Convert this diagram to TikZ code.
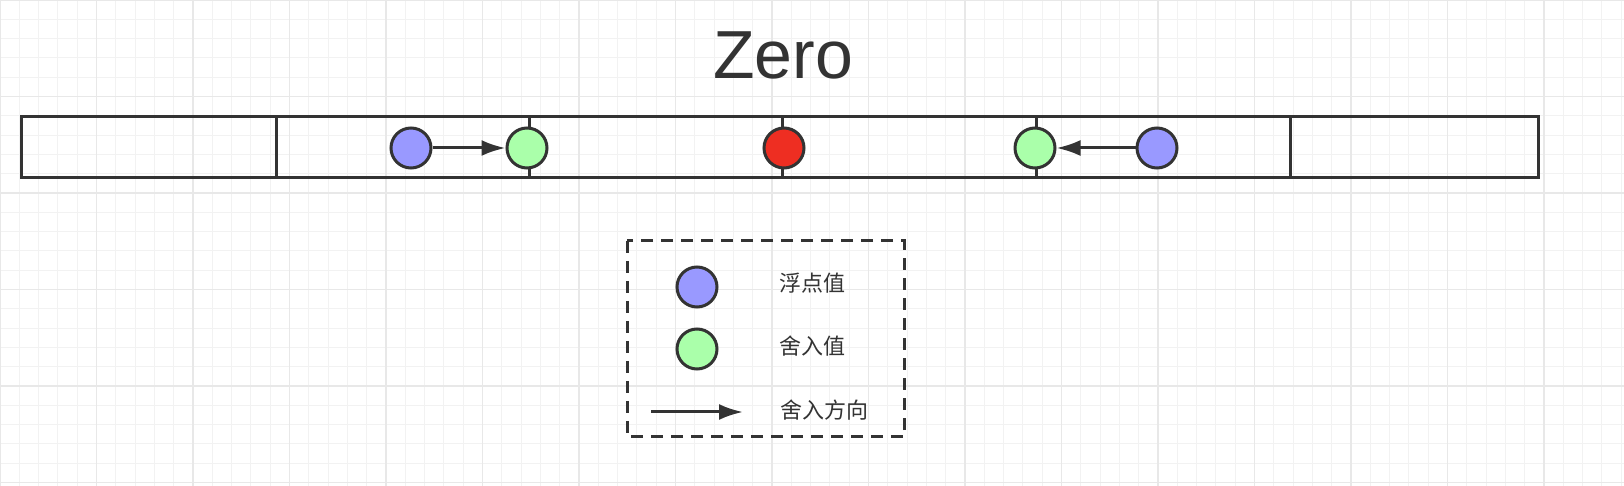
\documentclass[tikz,border=0pt]{standalone}
\usepackage{fontspec}
\setmainfont{Liberation Sans}
\newfontfamily\cjk{Noto Sans CJK SC}
\usetikzlibrary{arrows.meta}
\definecolor{stk}{HTML}{333333}
\definecolor{fblue}{HTML}{9999FF}
\definecolor{fgreen}{HTML}{AAFFAA}
\definecolor{fred}{HTML}{EE2E22}
\tikzset{
 dot/.style={circle,draw=stk,line width=1.5pt,minimum size=20pt,inner sep=0pt},
 arr/.style={draw=stk,line width=1.5pt,-{Latex[length=12pt,width=8pt]}},
 lbl/.style={font=\cjk\fontsize{11}{13}\selectfont,text=stk}
}
\begin{document}
\begin{tikzpicture}[x=0.5pt,y=-0.5pt]
\useasboundingbox (0,0) rectangle (1624,486);
\fill[white] (0,0) rectangle (1624,486);
\foreach \i in {0,...,84} \draw[black!5,line width=0.5pt] ({\i*19.3},0) -- ({\i*19.3},486);
\foreach \i in {0,...,25} \draw[black!5,line width=0.5pt] (0,{\i*19.3}) -- (1624,{\i*19.3});
\foreach \i in {0,...,16} \draw[black!9,line width=0.6pt] ({\i*96.5},0) -- ({\i*96.5},486);
\foreach \i in {0,...,5} \draw[black!9,line width=0.6pt] (0,{\i*96.5}) -- (1624,{\i*96.5});
\node[font=\fontsize{34}{40}\selectfont,text=stk] (title) at (783,55) {Zero};
\draw[stk,line width=1.5pt] (21,117) rectangle (1538,178);
\foreach \x in {276,529,782,1036,1290} \draw[stk,line width=1.5pt] (\x,117) -- (\x,178);
\node[dot,fill=fblue] (b1) at (411,148) {};
\node[dot,fill=fgreen] (g1) at (527,148) {};
\node[dot,fill=fred] (r) at (784,148) {};
\node[dot,fill=fgreen] (g2) at (1035,148) {};
\node[dot,fill=fblue] (b2) at (1157,148) {};
\draw[arr] (b1) -- (g1);
\draw[arr] (b2) -- (g2);
\draw[stk,line width=1.5pt,dash pattern=on 6pt off 4pt] (627,241) rectangle (904,437);
\node[dot,fill=fblue] (lb) at (697,287) {};
\node[dot,fill=fgreen] (lg) at (697,349) {};
\coordinate (a1) at (651,412);
\coordinate (a2) at (743,412);
\draw[arr] (a1) -- (a2);
\node[lbl] (t1) at (812,283) {浮点值};
\node[lbl] (t2) at (812,346) {舍入值};
\node[lbl] (t3) at (824,410) {舍入方向};
\end{tikzpicture}
\end{document}
